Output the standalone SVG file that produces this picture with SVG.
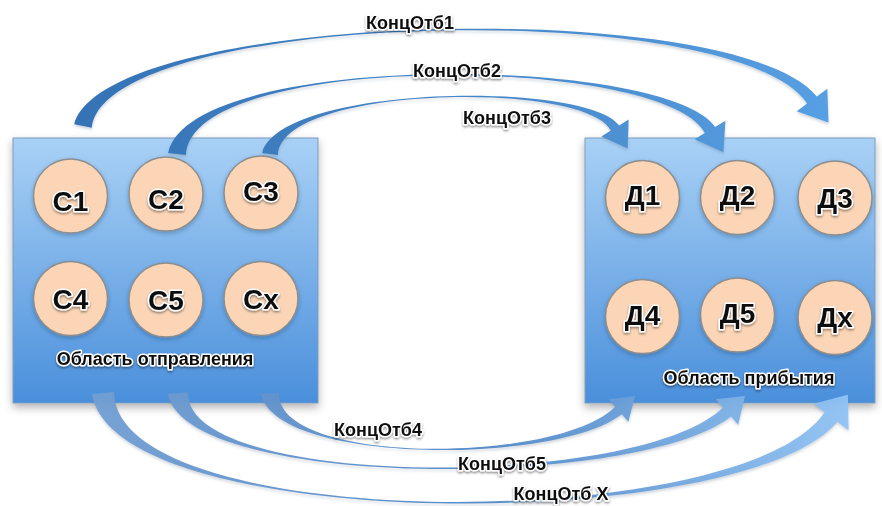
<svg xmlns="http://www.w3.org/2000/svg" width="882" height="506" viewBox="0 0 882 506">
  <defs>
    <linearGradient id="areaFill" x1="0" y1="0" x2="0" y2="1">
      <stop offset="0" stop-color="#a9d1f6"/>
      <stop offset="1" stop-color="#4a8fdb"/>
    </linearGradient>
    <linearGradient id="topFlow" gradientUnits="userSpaceOnUse" x1="80" y1="0" x2="840" y2="0">
      <stop offset="0" stop-color="#3473b6"/>
      <stop offset="0.5" stop-color="#4686c6"/>
      <stop offset="1" stop-color="#57a0e4"/>
    </linearGradient>
    <linearGradient id="bottomFlow" gradientUnits="userSpaceOnUse" x1="90" y1="0" x2="860" y2="0">
      <stop offset="0" stop-color="#739fd3"/>
      <stop offset="0.5" stop-color="#4f86c6"/>
      <stop offset="1" stop-color="#93c5f5"/>
    </linearGradient>
    <filter id="areaShadow" x="-10%" y="-10%" width="120%" height="125%">
      <feDropShadow dx="0" dy="4" stdDeviation="4" flood-color="#000" flood-opacity="0.3"/>
    </filter>
    <filter id="nodeShadow" x="-20%" y="-20%" width="140%" height="150%">
      <feDropShadow dx="0" dy="2" stdDeviation="2" flood-color="#1d3f66" flood-opacity="0.35"/>
    </filter>
    <filter id="flowHalo" x="-5%" y="-10%" width="110%" height="130%">
      <feDropShadow dx="0" dy="2" stdDeviation="1.5" flood-color="#6b7f99" flood-opacity="0.35"/>
    </filter>
    <filter id="textShadow" x="-10%" y="-30%" width="120%" height="170%">
      <feDropShadow dx="0" dy="1.5" stdDeviation="1" flood-color="#000" flood-opacity="0.45"/>
    </filter>
  </defs>
  <style>
    .area { fill: url(#areaFill); stroke: #7c9cbf; stroke-width: 1; filter: url(#areaShadow); }
    .node circle { fill: #fbd5b6; stroke: #8e8e8e; stroke-width: 1.5; filter: url(#nodeShadow); }
    .txt { font-family: "Liberation Sans", Arial, sans-serif; font-weight: bold; fill: #111;
           stroke: #fff; stroke-width: 3; stroke-linejoin: round; paint-order: stroke; text-anchor: middle;
           filter: url(#textShadow); }
    .node text { font-size: 28px; }
    .area-label { font-size: 18px; }
    .flow-label { font-size: 18px; }
    .flow-top { fill: url(#topFlow); filter: url(#flowHalo); }
    .flow-bottom { fill: url(#bottomFlow); fill-opacity: 0.95; filter: url(#flowHalo); }
  </style>

  <!-- departure and arrival areas -->
  <g id="area-departure">
    <rect class="area" x="13" y="138" width="305" height="265"/>
  </g>
  <g id="area-arrival">
    <rect class="area" x="585" y="138" width="290" height="265"/>
  </g>

  <!-- tapered flow arrows between the areas -->
  <g id="connectors">
    <path id="flow-1" class="flow-top" d="M74.2,124.3 C105,10 735,-5 816.8,96.5 L827.3,88.8 L828.5,122.6 L796.7,111.2 L807.2,103.5 C735,-5 105,10 91.8,127.7 Z"/>
    <path id="flow-2" class="flow-top" d="M168.1,152.9 C190,50 665,55 715.1,126.9 L725.4,120.7 L723.4,152.3 L694.6,139.3 L704.9,133.1 C665,55 190,50 185.9,155.1 Z"/>
    <path id="flow-3" class="flow-top" d="M262.1,152.9 C280,85 585,80 619.2,125.4 L628.6,119.5 L627.7,148.4 L601.4,136.5 L610.8,130.6 C585,80 280,85 277.9,155.1 Z"/>
    <path id="flow-4" class="flow-bottom" d="M261,393.6 C275,465 556.6,465 621.8,414.3 L628.4,421.8 L635,396 L608.6,399.2 L615.2,406.8 C556.6,465 275,465 279,392.4 Z"/>
    <path id="flow-5" class="flow-bottom" d="M168,393.7 C185,490 638.5,490 731,416.5 L738.2,424.8 L745,396.1 L715.8,399.2 L723,407.5 C638.5,490 185,490 188,392.3 Z"/>
    <path id="flow-x" class="flow-bottom" d="M92,393.9 C115,535 742,535 837.4,421.8 L848.6,430.2 L847.9,394.7 L813.4,403.8 L824.6,412.2 C742,535 115,535 114,392.1 Z"/>
    <text class="txt flow-label" x="410" y="29">КонцОтб1</text>
    <text class="txt flow-label" x="457" y="77">КонцОтб2</text>
    <text class="txt flow-label" x="507" y="124">КонцОтб3</text>
    <text class="txt flow-label" x="378" y="436">КонцОтб4</text>
    <text class="txt flow-label" x="502" y="470">КонцОтб5</text>
    <text class="txt flow-label" x="561" y="500">КонцОтб X</text>
  </g>

  <!-- departure nodes -->
  <g id="c1" class="node"><circle cx="70.5" cy="196" r="37"/><text class="txt" x="70.5" y="211">С1</text></g>
  <g id="c2" class="node"><circle cx="166" cy="194" r="37"/><text class="txt" x="166" y="209">С2</text></g>
  <g id="c3" class="node"><circle cx="261" cy="193" r="37"/><text class="txt" x="261" y="201">С3</text></g>
  <g id="c4" class="node"><circle cx="70.5" cy="298.5" r="37"/><text class="txt" x="70.5" y="309">С4</text></g>
  <g id="c5" class="node"><circle cx="166" cy="300" r="37"/><text class="txt" x="166" y="310">С5</text></g>
  <g id="cx" class="node"><circle cx="261" cy="298.5" r="37"/><text class="txt" x="261" y="309">Сх</text></g>
  <text class="txt area-label" x="155" y="365">Область отправления</text>

  <!-- arrival nodes -->
  <g id="d1" class="node"><circle cx="642.5" cy="197.5" r="37"/><text class="txt" x="642.5" y="205">Д1</text></g>
  <g id="d2" class="node"><circle cx="737.5" cy="197.5" r="37"/><text class="txt" x="737.5" y="205">Д2</text></g>
  <g id="d3" class="node"><circle cx="835" cy="198" r="37"/><text class="txt" x="835" y="208">Д3</text></g>
  <g id="d4" class="node"><circle cx="642.5" cy="316.5" r="37"/><text class="txt" x="642.5" y="325">Д4</text></g>
  <g id="d5" class="node"><circle cx="737.5" cy="315" r="37"/><text class="txt" x="737.5" y="323">Д5</text></g>
  <g id="dx" class="node"><circle cx="835" cy="317.5" r="37"/><text class="txt" x="835" y="327">Дх</text></g>
  <text class="txt area-label" x="749" y="384">Область прибытия</text>
</svg>
